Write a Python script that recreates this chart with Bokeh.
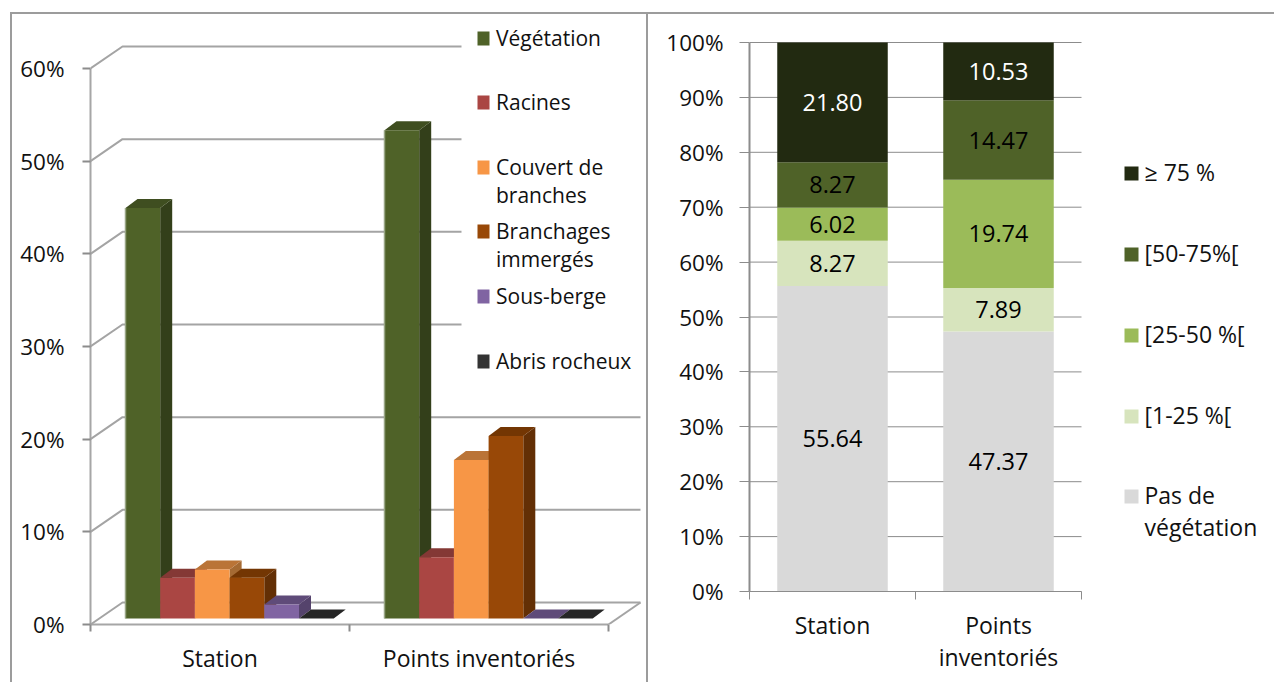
from bokeh.plotting import figure
from bokeh.layouts import row
from bokeh.embed import file_html
from bokeh.resources import INLINE
from bokeh.core.properties import value
from bokeh.models import (Range1d, FixedTicker, PrintfTickFormatter, ColumnDataSource)

# ---------- data ----------
groups = ["Station", "Points inventoriés"]
groups_right = ["Station", "Points\ninventoriés"]

vegetation = [44.3, 52.7]
racines = [4.4, 6.6]
couvert = [5.3, 17.1]
branchages = [4.4, 19.7]
sous_berge = [1.5, 0.0]
abris = [0.0, 0.0]
left_ticks = [0, 10, 20, 30, 40, 50, 60]
left_names = ["Végétation", "Racines", "Couvert de\nbranches", "Branchages\nimmergés", "Sous-berge", "Abris rocheux"]

pas_de_veg = [55.64, 47.37]
c_1_25 = [8.27, 7.89]
c_25_50 = [6.02, 19.74]
c_50_75 = [8.27, 14.47]
c_75 = [21.80, 10.53]
right_ticks = [0, 10, 20, 30, 40, 50, 60, 70, 80, 90, 100]
right_names = ["Pas de\nvégétation", "[1-25 %[", "[25-50 %[", "[50-75%[", "≥ 75 %"]

# ---------- styles ----------
FONT = "Open Sans"
TXT = "#111111"
TICK_FS = "22.5px"
CAT_FS = "23px"
FRAME = "#9c9c9c"
AX = "#8c8c8c"
front = ["#4F6228", "#AA4643", "#F79646", "#984807", "#8064A2", "#333333"]
top_c = ["#3F4E20", "#843835", "#BA7437", "#733603", "#5F4B79", "#262626"]
side_c = ["#333F1A", "#6E2F2D", "#A56A33", "#632F05", "#55436C", "#222222"]
right_c = ["#D9D9D9", "#D7E4BD", "#9BBB59", "#4F6228", "#222A11"]

def bars(x, y, w, h):
    return f"linear-gradient({FRAME},{FRAME}) {x}px {y}px / {w}px {h}px no-repeat"

# ---------- left chart ----------
LW, H = 648, 682
CAT, PCT = 259.0, 9.267
L0, B0 = 90, 624
def LX(px): return (px - L0) / CAT
def LY(py): return (B0 - py) / PCT

pl = figure(width=LW, height=H, output_backend="svg", toolbar_location=None,
            x_range=Range1d(0, LX(LW)), y_range=Range1d(0, LY(0)),
            min_border_left=L0, min_border_right=0, min_border_top=0, min_border_bottom=H - B0,
            outline_line_color=None, background_fill_color=None, border_fill_color=None,
            frame_align=False,
            styles={"background": ", ".join([bars(10, 12, 2, 670), bars(10, 12, 638, 2), bars(646, 12, 2, 670)])})
pl.grid.visible = False

# 3D floor/walls
dx, dy = 32 / CAT, 22 / PCT
vals = [vegetation, racines, couvert, branchages, sous_berge, abris]
gx, gy = [], []
for t in left_ticks:
    gx.append([0, dx, LX(640)])
    gy.append([t, t + dy, t + dy])
gx.append([LX(608), LX(640)])
gy.append([0, dy])
pl.multi_line(gx, gy, line_color="#a4a4a4", line_width=2)
pl.quad(left=[LX(461)], right=[LX(644)], bottom=[LY(390)], top=[LY(15)], fill_color="white", line_color=None)

# bars
base = 6 / PCT
off = 35 / CAT
bw = 34.7 / CAT
bdx, bdy = 12 / CAT, 9 / PCT
xs, ys, cols = [], [], []
for g in range(len(groups)):
    for i, series in enumerate(vals):
        v = series[g]
        x0 = g + off + i * bw
        x1 = x0 + bw
        yb, yt = base, base + v
        if v > 0:
            xs.append([x1, x1 + bdx, x1 + bdx, x1]); ys.append([yb, yb + bdy, yt + bdy, yt]); cols.append(side_c[i])
        xs.append([x0, x1, x1 + bdx, x0 + bdx]); ys.append([yt, yt, yt + bdy, yt + bdy]); cols.append(top_c[i])
        if v > 0:
            xs.append([x0, x1, x1, x0]); ys.append([yb, yb, yt, yt]); cols.append(front[i])
pl.patches(xs, ys, fill_color=cols, line_color=None)
# pale left edge of the first bar of each group
pl.segment(x0=[g + off for g in range(2)], x1=[g + off for g in range(2)],
           y0=[base] * 2, y1=[base + v for v in vegetation], line_color="#98A585", line_width=1.5)

# axes
ya = pl.yaxis[0]
ya.ticker = FixedTicker(ticks=left_ticks)
ya.formatter = PrintfTickFormatter(format="%d%%")
ya.bounds = (0, 60)
ya.axis_line_color = "#a6a6a6"; ya.axis_line_width = 2
ya.major_tick_line_color = AX; ya.major_tick_line_width = 2
ya.major_tick_out = 8; ya.major_tick_in = 0; ya.minor_tick_out = 0; ya.minor_tick_in = 0
ya.major_label_standoff = 18
ya.major_label_text_font = FONT; ya.major_label_text_font_size = TICK_FS; ya.major_label_text_color = TXT

xa = pl.xaxis[0]
xa.ticker = FixedTicker(ticks=[0.5, 1.5], minor_ticks=[0, 1, 2])
xa.major_label_overrides = {0.5: groups[0], 1.5: groups[1]}
xa.bounds = (0, 2)
xa.axis_line_color = "#a6a6a6"; xa.axis_line_width = 2
xa.major_tick_out = 0; xa.major_tick_in = 0
xa.minor_tick_out = 7; xa.minor_tick_in = 0; xa.minor_tick_line_color = AX; xa.minor_tick_line_width = 2
xa.major_label_standoff = 10
xa.major_label_text_font = FONT; xa.major_label_text_font_size = CAT_FS; xa.major_label_text_color = TXT

# legend
ly = [38, 102, 167, 231, 296, 361]
pl.rect(x=[LX(483)] * 6, y=[LY(v) for v in ly], width=12, height=14, width_units="screen", height_units="screen",
        fill_color=front, line_color=None)
pl.text(x=[LX(495.5)] * 6, y=[LY(v) for v in ly], text=left_names, text_baseline="top",
        y_offset=-15, text_line_height=1.0, text_font=value(FONT), text_font_size="21px", text_color=TXT)

# ---------- right chart ----------
RW = 626
R0, RB = 749, 591
RCAT, RPCT = 166.0, 5.49
def RX(px): return (px - R0) / RCAT
def RY(py): return (RB - py) / RPCT

pr = figure(width=RW, height=H, output_backend="svg", toolbar_location=None,
            x_range=Range1d(0, RX(1274)), y_range=Range1d(0, RY(0)),
            min_border_left=R0 - LW, min_border_right=0, min_border_top=0, min_border_bottom=H - RB,
            outline_line_color=None, background_fill_color=None, border_fill_color=None,
            frame_align=False,
            styles={"background": bars(0, 12, 626, 2)})
pr.grid.visible = False
pr.segment(x0=[0] * len(right_ticks), x1=[2] * len(right_ticks), y0=right_ticks, y1=right_ticks,
           line_color=AX, line_width=1)

stack_names = ["a", "b", "c", "d", "e"]
src = ColumnDataSource(dict(x=[0.5, 1.5], a=pas_de_veg, b=c_1_25, c=c_25_50, d=c_50_75, e=c_75))
pr.vbar_stack(stack_names, x="x", width=110.5 / RCAT, source=src, color=right_c, line_color=None)

lx, ly2, lt, lc = [], [], [], []
for g in range(2):
    acc = 0
    for s, k in zip([pas_de_veg, c_1_25, c_25_50, c_50_75, c_75], range(5)):
        lx.append(g + 0.5); ly2.append(acc + s[g] / 2); lt.append("%.2f" % s[g])
        lc.append("white" if k == 4 else "black")
        acc += s[g]
pr.text(lx, ly2, text=lt, text_color=lc, text_align="center", text_baseline="middle",
        text_font=value(FONT), text_font_size="23.5px")

ya = pr.yaxis[0]
ya.ticker = FixedTicker(ticks=right_ticks)
ya.formatter = PrintfTickFormatter(format="%d%%")
ya.bounds = (0, 100)
ya.axis_line_color = AX; ya.axis_line_width = 2
ya.major_tick_line_color = AX; ya.major_tick_line_width = 1
ya.major_tick_out = 10; ya.major_tick_in = 0; ya.minor_tick_out = 0; ya.minor_tick_in = 0
ya.major_label_standoff = 16
ya.major_label_text_font = FONT; ya.major_label_text_font_size = TICK_FS; ya.major_label_text_color = TXT

xa = pr.xaxis[0]
xa.ticker = FixedTicker(ticks=[0.5, 1.5], minor_ticks=[0, 1, 2])
xa.major_label_overrides = {0.5: groups_right[0], 1.5: groups_right[1]}
xa.bounds = (0, 2)
xa.axis_line_color = AX; xa.axis_line_width = 1
xa.major_tick_out = 0; xa.major_tick_in = 0
xa.minor_tick_out = 8; xa.minor_tick_in = 0; xa.minor_tick_line_color = AX; xa.minor_tick_line_width = 1
xa.major_label_standoff = 9
xa.major_label_text_font = FONT; xa.major_label_text_font_size = CAT_FS; xa.major_label_text_color = TXT
xa.major_label_text_line_height = 1.0

rly = [496, 416, 335, 254, 173]
pr.rect(x=[RX(1131)] * 5, y=[RY(v) for v in rly], width=14, height=14, width_units="screen", height_units="screen",
        fill_color=right_c, line_color=None)
pr.text(x=[RX(1144)] * 5, y=[RY(v) for v in rly], text=right_names, text_baseline="top",
        y_offset=-18, text_line_height=1.0, text_font=value(FONT), text_font_size="23px", text_color=TXT)

layout = row(pl, pr, spacing=0)
open("out.html", "w").write(file_html(layout, INLINE))
